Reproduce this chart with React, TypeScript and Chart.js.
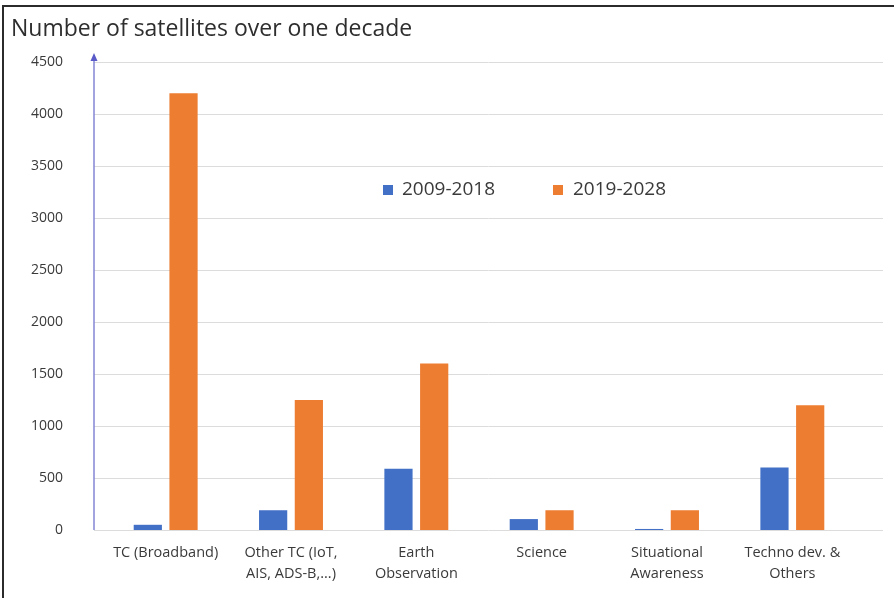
import React, { useEffect, useRef } from "react";
import { Chart, registerables } from "chart.js";

Chart.register(...registerables);

const TITLE = "Number of satellites over one decade";
const categories: string[][] = [
  ["TC (Broadband)"],
  ["Other TC (IoT,", "AIS, ADS-B,...)"],
  ["Earth", "Observation"],
  ["Science"],
  ["Situational", "Awareness"],
  ["Techno dev. &", "Others"],
];
const seriesNames = ["2009-2018", "2019-2028"];
const values2009 = [50, 190, 590, 105, 10, 600];
const values2019 = [4200, 1250, 1600, 190, 190, 1200];
const yMin = 0;
const yMax = 4500;
const yStep = 500;

const BLUE = "#4270C6";
const ORANGE = "#ED7D31";
const TEXT = "#3a3a3a";
const FONT = "'Open Sans', 'Noto Sans', sans-serif";

const decorPlugin = {
  id: "decor",
  beforeDraw(chart: any) {
    const { ctx, width, height } = chart;
    ctx.save();
    ctx.fillStyle = "#ffffff";
    ctx.fillRect(0, 0, width, height);
    ctx.restore();
  },
  beforeDatasetsDraw(chart: any) {
    const { ctx, chartArea } = chart;
    const y = chart.scales.y;
    const x0 = chartArea.left - 9;
    const x1 = chartArea.right + 28;
    ctx.save();
    ctx.strokeStyle = "#dcdcdc";
    ctx.lineWidth = 1;
    y.ticks.forEach((t: any) => {
      const py = Math.round(y.getPixelForValue(t.value)) + 0.5;
      ctx.beginPath();
      ctx.moveTo(x0, py);
      ctx.lineTo(x1, py);
      ctx.stroke();
    });
    ctx.restore();
  },
  afterDatasetsDraw(chart: any) {
    const { ctx, chartArea } = chart;
    const y = chart.scales.y;
    const ax = chartArea.left - 9;
    const yBottom = y.getPixelForValue(yMin);
    const yTop = y.getPixelForValue(yMax);
    ctx.save();
    // vertical axis with arrow
    ctx.strokeStyle = "#8585d6";
    ctx.lineWidth = 1.5;
    ctx.beginPath();
    ctx.moveTo(ax, yBottom);
    ctx.lineTo(ax, yTop - 2);
    ctx.stroke();
    ctx.fillStyle = "#5a5ac8";
    ctx.beginPath();
    ctx.moveTo(ax, yTop - 9);
    ctx.lineTo(ax - 3.5, yTop - 1);
    ctx.lineTo(ax + 3.5, yTop - 1);
    ctx.closePath();
    ctx.fill();

    // legend inside the plot
    const ly = 190;
    const entries = [
      { x: 383, tx: 402 },
      { x: 553, tx: 573 },
    ];
    ctx.font = `19px ${FONT}`;
    ctx.textBaseline = "middle";
    ctx.textAlign = "left";
    chart.data.datasets.forEach((ds: any, i: number) => {
      const e = entries[i];
      ctx.fillStyle = ds.backgroundColor;
      ctx.fillRect(e.x, ly - 5, 10, 10);
      ctx.fillStyle = TEXT;
      ctx.fillText(ds.label, e.tx, ly);
    });

    // title
    ctx.font = `23px ${FONT}`;
    ctx.textBaseline = "alphabetic";
    ctx.fillStyle = "#2e2e2e";
    ctx.fillText(TITLE, 11, 36);

    // frame
    ctx.strokeStyle = "#2b2b2b";
    ctx.lineWidth = 2;
    ctx.beginPath();
    ctx.moveTo(3, chart.height);
    ctx.lineTo(3, 6);
    ctx.lineTo(chart.width, 6);
    ctx.stroke();
    ctx.restore();
  },
};

export default function App() {
  const ref = useRef<HTMLCanvasElement | null>(null);
  useEffect(() => {
    document.body.style.margin = "0";
    const canvas = ref.current;
    if (!canvas) return;
    const chart = new Chart(canvas, {
      type: "bar",
      data: {
        labels: categories,
        datasets: [
          {
            label: seriesNames[0],
            data: values2009,
            backgroundColor: BLUE,
            barPercentage: 0.79,
            categoryPercentage: 0.57,
          },
          {
            label: seriesNames[1],
            data: values2019,
            backgroundColor: ORANGE,
            barPercentage: 0.79,
            categoryPercentage: 0.57,
          },
        ],
      },
      options: {
        responsive: false,
        animation: false,
        devicePixelRatio: 1,
        layout: { padding: { top: 62, right: 39, left: 0, bottom: 0 } },
        plugins: {
          legend: { display: false },
          title: { display: false },
          tooltip: { enabled: false },
        },
        scales: {
          x: {
            grid: { display: false, drawTicks: false },
            border: { display: false },
            ticks: {
              color: TEXT,
              font: { family: FONT, size: 14.5, lineHeight: 1.45 },
              padding: 12,
              maxRotation: 0,
              autoSkip: false,
            },
            afterFit: (s: any) => {
              s.height = 68;
            },
          },
          y: {
            min: yMin,
            max: yMax,
            grid: { display: false, drawTicks: false },
            border: { display: false },
            ticks: {
              stepSize: yStep,
              color: TEXT,
              font: { family: FONT, size: 14 },
              padding: 40,
              callback: (v: any) => String(v),
            },
            afterFit: (s: any) => {
              s.width = 103;
            },
          },
        },
      },
      plugins: [decorPlugin],
    });
    return () => chart.destroy();
  }, []);
  return (
    <div style={{ position: "fixed", left: 0, top: 0, width: 894, height: 598 }}>
      <canvas ref={ref} width={894} height={598} style={{ display: "block" }} />
    </div>
  );
}
